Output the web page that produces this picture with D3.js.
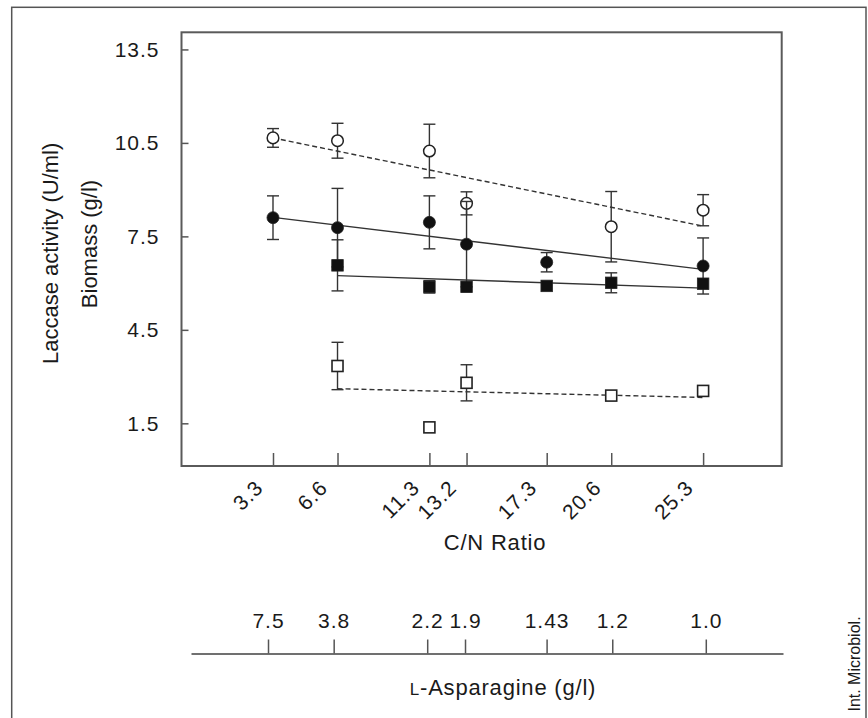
<!DOCTYPE html>
<html>
<head>
<meta charset="utf-8">
<script src="https://cdn.jsdelivr.net/npm/d3@7"></script>
<style>
  body { margin: 0; background: #fff; }
  text { font-family: "Liberation Sans", Arial, sans-serif; fill: #1a1a1a; }
</style>
</head>
<body>
<script>
//------------------------------------------------------------------------------
// data (C/N ratio on x, value on y)

const cnRatio = [3.3, 6.6, 11.3, 13.2, 17.3, 20.6, 25.3]
const asparagine = ["7.5", "3.8", "2.2", "1.9", "1.43", "1.2", "1.0"]
const yTicks = [1.5, 4.5, 7.5, 10.5, 13.5]

// open circles
const openCircle = [10.66, 10.57, 10.24, 8.56, null, 7.81, 8.34]
const openCircleErr = [0.3, 0.56, 0.86, 0.37, null, 1.13, 0.5]
const openCircleFit = [[3.3, 10.66], [25.3, 7.83]]

// filled circles
const filledCircle = [8.10, 7.78, 7.95, 7.25, 6.67, null, 6.55]
const filledCircleErr = [0.7, 1.26, 0.85, 1.37, 0.31, null, 0.9]
const filledCircleFit = [[3.3, 8.11], [25.3, 6.44]]

// filled squares
const filledSquare = [null, 6.57, 5.88, 5.88, 5.91, 6.01, 5.98]
const filledSquareErr = [null, 0.82, 0.2, null, null, 0.32, null]
const filledSquareFit = [[6.6, 6.24], [25.3, 5.84]]

// open squares
const openSquare = [null, 3.34, 1.37, 2.80, null, 2.39, 2.54]
const openSquareErr = [null, 0.76, null, 0.58, null, null, null]
const openSquareFit = [[6.6, 2.61], [25.3, 2.33]]

//------------------------------------------------------------------------------

const W = 868, H = 718
const plot = { left: 181.5, top: 32.3, right: 781.7, bottom: 466 }

const svg = d3.select("body").append("svg")
    .attr("width", W)
    .attr("height", H)

// outer frame of the figure (bottom edge runs off the picture)
svg.append("rect")
    .attr("x", 11.7).attr("y", 7.3)
    .attr("width", 866 - 11.7).attr("height", H + 20)
    .attr("fill", "none")
    .attr("stroke", "#555")
    .attr("stroke-width", 1.5)

//------------------------------------------------------------------------------
// scales

const x = d3.scaleLinear()
    .domain([-1.38, 29.32])
    .range([plot.left, plot.right])

const y = d3.scaleLinear()
    .domain([0.13, 14.05])
    .range([plot.bottom, plot.top])

// second axis for L-asparagine, slightly shifted in the original
const x2 = d3.scaleLinear()
    .domain([-0.57, 29.18])
    .range([191, 783])

//------------------------------------------------------------------------------
// axes

const yAxis = svg.append("g")
    .attr("transform", "translate(" + plot.left + ",0)")
    .call(d3.axisLeft(y).tickValues(yTicks).tickSizeInner(-7).tickSizeOuter(0).tickPadding(22).tickFormat(d3.format(".1f")))
yAxis.select(".domain").remove()
yAxis.selectAll("text").attr("font-size", 21).attr("letter-spacing", 1).attr("dy", "0.33em")

const xAxis = svg.append("g")
    .attr("transform", "translate(0," + plot.bottom + ")")
    .call(d3.axisBottom(x).tickValues(cnRatio).tickSizeInner(-13).tickSizeOuter(0).tickFormat(d3.format(".1f")))
xAxis.select(".domain").remove()
xAxis.selectAll("text")
    .attr("font-size", 21)
    .attr("letter-spacing", 1)
    .attr("text-anchor", "end")
    .attr("y", 0).attr("dy", 0)
    .attr("transform", d => "translate(-9,23) rotate(-45)")

svg.selectAll(".tick line").attr("stroke", "#555").attr("stroke-width", 1.5)

// box round the plot
svg.append("rect")
    .attr("x", plot.left).attr("y", plot.top)
    .attr("width", plot.right - plot.left)
    .attr("height", plot.bottom - plot.top)
    .attr("fill", "none")
    .attr("stroke", "#5a5a5a")
    .attr("stroke-width", 2)

// L-asparagine axis under the C/N one
const aAxis = svg.append("g")
    .attr("transform", "translate(0,653.5)")
    .call(d3.axisTop(x2).tickValues(cnRatio).tickSizeInner(14).tickSizeOuter(0).tickPadding(12)
        .tickFormat((d, i) => asparagine[i]))
aAxis.select(".domain").attr("stroke", "#707070").attr("stroke-width", 2)
aAxis.selectAll(".tick line").attr("stroke", "#555").attr("stroke-width", 1.5)
aAxis.selectAll("text").attr("font-size", 21).attr("letter-spacing", 1)

//------------------------------------------------------------------------------
// axis titles

svg.append("text")
    .attr("text-anchor", "middle")
    .attr("transform", "translate(57.5,253.3) rotate(-90)")
    .attr("font-size", 22)
    .text("Laccase activity (U/ml)")

svg.append("text")
    .attr("text-anchor", "middle")
    .attr("transform", "translate(97,244) rotate(-90)")
    .attr("font-size", 22)
    .text("Biomass (g/l)")

svg.append("text")
    .attr("text-anchor", "middle")
    .attr("x", 495).attr("y", 549.5)
    .attr("font-size", 22)
    .attr("letter-spacing", 0.8)
    .text("C/N Ratio")

const asp = svg.append("text")
    .attr("text-anchor", "middle")
    .attr("x", 503).attr("y", 695)
    .attr("font-size", 22)
    .attr("letter-spacing", 0.8)
asp.append("tspan").attr("font-size", 17).text("L")
asp.append("tspan").text("-Asparagine (g/l)")

svg.append("text")
    .attr("text-anchor", "middle")
    .attr("transform", "translate(860,664) rotate(-90)")
    .attr("font-size", 16)
    .text("Int. Microbiol.")

//------------------------------------------------------------------------------
// fit lines

const line = d3.line().x(d => x(d[0])).y(d => y(d[1]))

function drawFit(fit, dashed) {
    svg.append("path")
        .attr("d", line(fit))
        .attr("fill", "none")
        .attr("stroke", "#333")
        .attr("stroke-width", 1.4)
        .attr("stroke-dasharray", dashed ? "5,3" : null)
}
drawFit(openCircleFit, true)
drawFit(filledCircleFit, false)
drawFit(filledSquareFit, false)
drawFit(openSquareFit, true)

//------------------------------------------------------------------------------
// error bars then markers

function drawSeries(vals, errs, shape, filled) {
    const pts = cnRatio.map((c, i) => ({ c: c, v: vals[i], e: errs[i] })).filter(d => d.v != null)

    const eb = svg.append("g")
        .attr("stroke", "#333")
        .attr("stroke-width", 1.4)
    pts.filter(d => d.e != null).forEach(d => {
        eb.append("line")
            .attr("x1", x(d.c)).attr("x2", x(d.c))
            .attr("y1", y(d.v + d.e)).attr("y2", y(d.v - d.e))
        eb.append("line")
            .attr("x1", x(d.c) - 6).attr("x2", x(d.c) + 6)
            .attr("y1", y(d.v + d.e)).attr("y2", y(d.v + d.e))
        eb.append("line")
            .attr("x1", x(d.c) - 6).attr("x2", x(d.c) + 6)
            .attr("y1", y(d.v - d.e)).attr("y2", y(d.v - d.e))
    })

    const g = svg.append("g")
    if (shape == "circle") {
        g.selectAll("circle").data(pts).join("circle")
            .attr("cx", d => x(d.c))
            .attr("cy", d => y(d.v))
            .attr("r", filled ? 6 : 5.8)
            .attr("fill", filled ? "#111" : "#fff")
            .attr("stroke", "#222")
            .attr("stroke-width", filled ? 0.8 : 1.5)
    } else {
        const s = filled ? 11.5 : 11
        g.selectAll("rect").data(pts).join("rect")
            .attr("x", d => x(d.c) - s / 2)
            .attr("y", d => y(d.v) - s / 2)
            .attr("width", s).attr("height", s)
            .attr("fill", filled ? "#111" : "#fff")
            .attr("stroke", "#222")
            .attr("stroke-width", filled ? 0.8 : 1.6)
    }
}

drawSeries(openCircle, openCircleErr, "circle", false)
drawSeries(filledCircle, filledCircleErr, "circle", true)
drawSeries(filledSquare, filledSquareErr, "square", true)
drawSeries(openSquare, openSquareErr, "square", false)
</script>
</body>
</html>
